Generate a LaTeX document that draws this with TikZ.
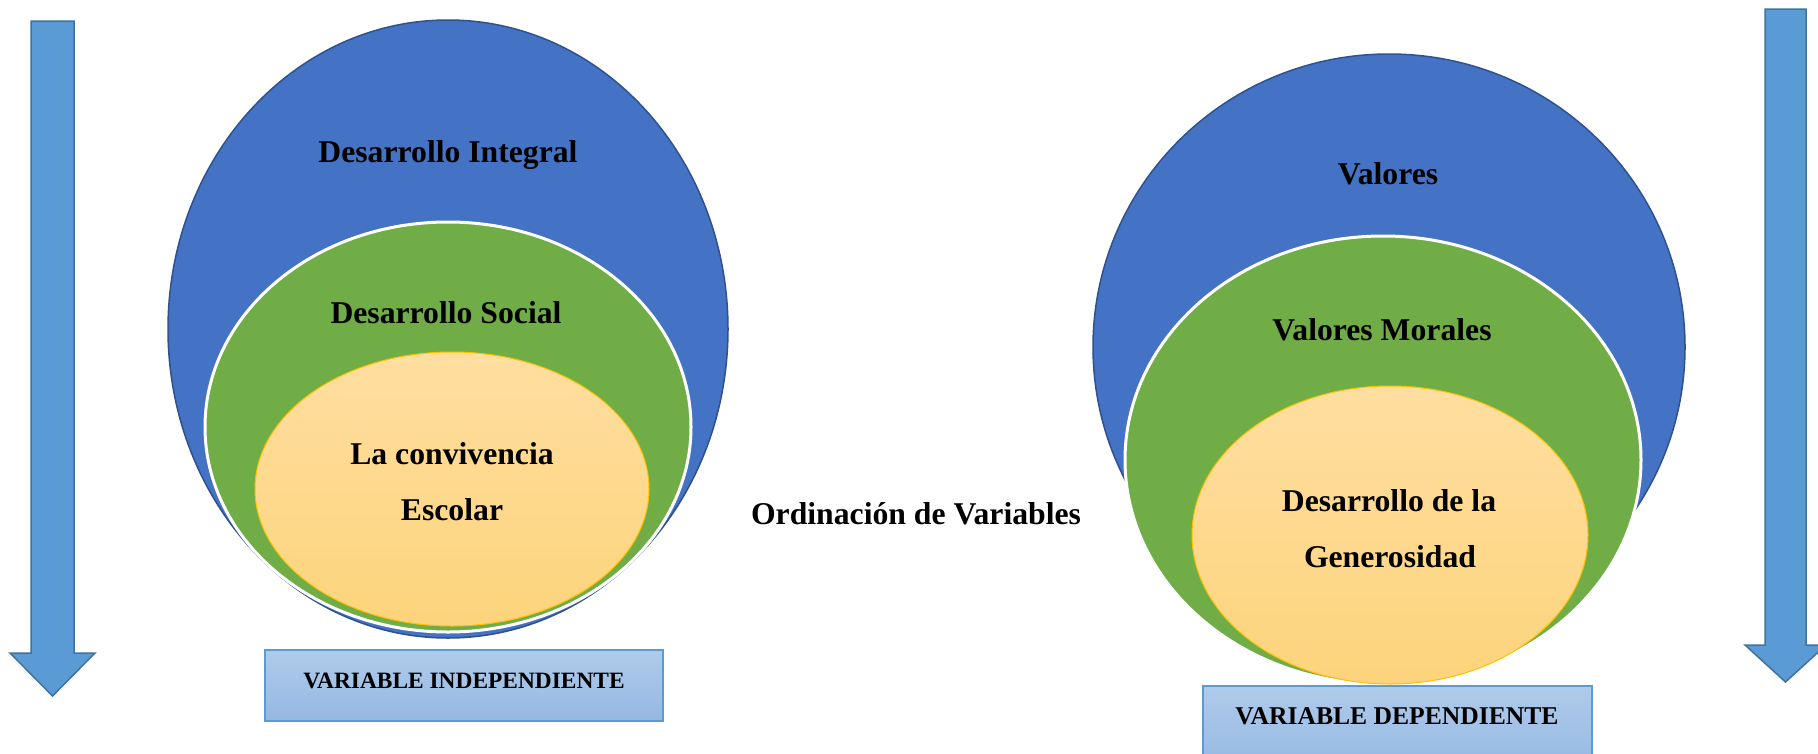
\documentclass[tikz,border=0pt]{standalone}
\usepackage{fontspec}
\setmainfont{Liberation Serif}
\definecolor{bluefill}{HTML}{4472C4}
\definecolor{blueedge}{HTML}{2F528F}
\definecolor{greenfill}{HTML}{70AD47}
\definecolor{yellowtop}{HTML}{FFDEA0}
\definecolor{yellowbot}{HTML}{FDD47C}
\definecolor{yellowedge}{HTML}{FFC000}
\definecolor{arrowfill}{HTML}{5B9BD5}
\definecolor{arrowedge}{HTML}{41719C}
\definecolor{boxtop}{HTML}{B0CBEA}
\definecolor{boxbot}{HTML}{94B8E3}
\definecolor{boxedge}{HTML}{5B9BD5}
\tikzset{
  outerell/.style={fill=bluefill, draw=blueedge, line width=1.5pt},
  midell/.style={fill=greenfill, draw=white, line width=3pt},
  innerell/.style={top color=yellowtop, bottom color=yellowbot, draw=yellowedge, line width=1pt},
  bigarrow/.style={fill=arrowfill, draw=arrowedge, line width=1.5pt, line join=miter},
  varbox/.style={top color=boxtop, bottom color=boxbot, draw=boxedge, line width=1.5pt},
  lbl/.style={inner sep=0pt, anchor=base, font=\fontsize{31.7}{38}\selectfont\bfseries},
}
\begin{document}
\begin{tikzpicture}[x=1pt,y=-1pt]
\useasboundingbox (0,0) rectangle (1818,753);
% arrows
\draw[bigarrow] (31,21) -- (74,21) -- (74,653) -- (95,653) -- (52.5,696) -- (10,653) -- (31,653) -- cycle;
\draw[bigarrow] (1765,9) -- (1806,9) -- (1806,645) -- (1826,645) -- (1785.5,682) -- (1745,645) -- (1765,645) -- cycle;
% left ellipses
\draw[outerell] (448,329) ellipse [x radius=280pt, y radius=309pt];
\draw[midell] (448,427) ellipse [x radius=243pt, y radius=205pt];
\draw[innerell] (452,489) ellipse [x radius=197pt, y radius=137pt];
% right ellipses
\begin{scope}
\clip (1060,0) -- (1720,0) -- (1720,510) -- (1634,510) -- (1126,481) -- (1060,481) -- cycle;
\draw[outerell] (1389,347) ellipse [x radius=296pt, y radius=293pt];
\end{scope}
\draw[midell] (1383,460) ellipse [x radius=258pt, y radius=224pt];
\draw[innerell] (1390,535) ellipse [x radius=198pt, y radius=149pt];
% boxes
\draw[varbox] (265,650) rectangle (663,721);
\draw[varbox] (1203,686) rectangle (1592,770);
% texts
\node[lbl] (t1) at (448,162) {Desarrollo Integral};
\node[lbl] (t2) at (446,323) {Desarrollo Social};
\node[lbl] (t3) at (452,464) {La convivencia};
\node[lbl] (t4) at (452,520) {Escolar};
\node[lbl] (t5) at (916,524) {Ordinación de Variables};
\node[lbl] (t6) at (1388,184) {Valores};
\node[lbl] (t7) at (1382,340) {Valores Morales};
\node[lbl] (t8) at (1389,511) {Desarrollo de la};
\node[lbl] (t9) at (1390,567) {Generosidad};
\node[inner sep=0pt, anchor=base, font=\fontsize{23.4}{28}\selectfont\bfseries] (b1) at (464,688) {VARIABLE INDEPENDIENTE};
\node[inner sep=0pt, anchor=base, font=\fontsize{25.6}{30}\selectfont\bfseries] (b2) at (1397,724) {VARIABLE DEPENDIENTE};
\end{tikzpicture}
\end{document}
